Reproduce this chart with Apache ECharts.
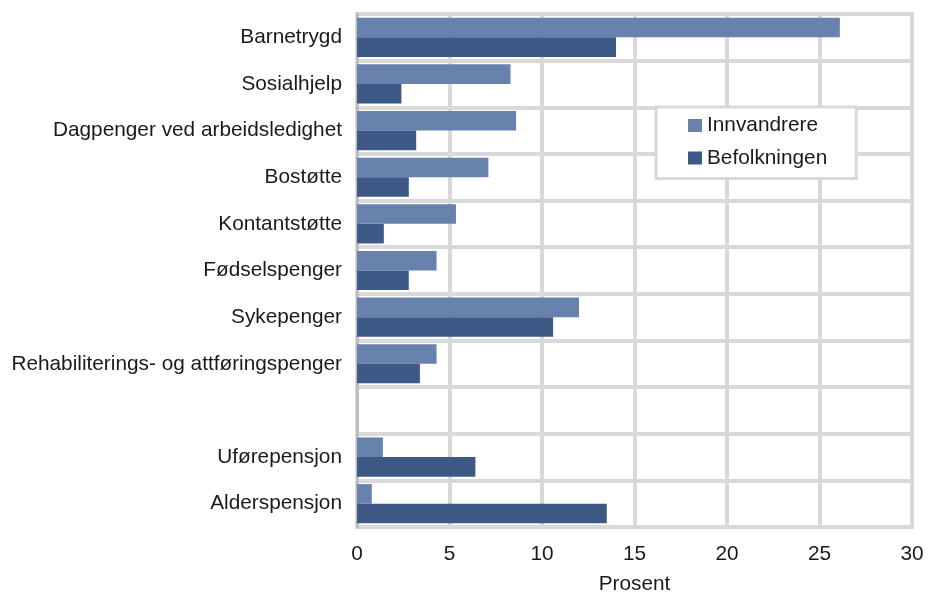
<!DOCTYPE html>
<html>
<head>
<meta charset="utf-8">
<script src="https://cdn.jsdelivr.net/npm/echarts@6/dist/echarts.min.js"></script>
<style>
html,body{margin:0;padding:0;background:#fff;}
#chart{width:931px;height:594px;}
</style>
</head>
<body>
<div id="chart"></div>
<script>
const categories = ['Barnetrygd','Sosialhjelp','Dagpenger ved arbeidsledighet','Bostøtte','Kontantstøtte','Fødselspenger','Sykepenger','Rehabiliterings- og attføringspenger','','Uførepensjon','Alderspensjon'];
const innvandrere = [26.1, 8.3, 8.6, 7.1, 5.35, 4.3, 12.0, 4.3, null, 1.4, 0.8];
const befolkningen = [14.0, 2.4, 3.2, 2.8, 1.45, 2.8, 10.6, 3.4, null, 6.4, 13.5];
const xTicks = [0, 5, 10, 15, 20, 25, 30];

const chart = echarts.init(document.getElementById('chart'), null, {renderer:'canvas'});
const font = '"Liberation Sans", Arial, sans-serif';
const txt = '#1a1a1a';
const fs = 20.8;
chart.setOption({
  animation: false,
  textStyle: {fontFamily: font},
  grid: {left: 357, right: 19, top: 14, bottom: 67, containLabel: false, outerBoundsMode: 'none',
         show: true, borderColor: '#d9d9d9', borderWidth: 4, backgroundColor: '#fff'},
  legend: {
    orient: 'vertical', left: 656, top: 107,
    data: ['Innvandrere','Befolkningen'],
    backgroundColor: '#fff', borderColor: '#d9d9d9', borderWidth: 3,
    padding: [8, 29, 10, 32],
    itemWidth: 14, itemHeight: 13, itemGap: 11.5,
    icon: 'rect',
    textStyle: {fontFamily: font, fontSize: fs, color: txt}
  },
  xAxis: {
    type: 'value', min: xTicks[0], max: xTicks[xTicks.length-1], interval: 5,
    name: 'Prosent', nameLocation: 'middle', nameGap: 47,
    nameTextStyle: {fontFamily: font, fontSize: fs, color: txt},
    axisLine: {show: false}, axisTick: {show: false},
    axisLabel: {fontFamily: font, fontSize: fs, color: txt, margin: 17},
    splitLine: {show: true, lineStyle: {color: '#d9d9d9', width: 4}}
  },
  yAxis: {
    type: 'category', data: categories, inverse: true,
    axisLine: {show: true, lineStyle: {color: '#bfbfbf', width: 3}},
    axisTick: {show: false},
    axisLabel: {fontFamily: font, fontSize: fs, color: txt, margin: 15},
    splitLine: {show: true, interval: 0, lineStyle: {color: '#d9d9d9', width: 4}}
  },
  series: [
    {name: 'Innvandrere', type: 'bar', data: innvandrere, barGap: '0%', barCategoryGap: '16%',
     itemStyle: {color: '#6882ae'}},
    {name: 'Befolkningen', type: 'bar', data: befolkningen, barGap: '0%', barCategoryGap: '16%',
     itemStyle: {color: '#3e5985'}}
  ]
});
</script>
</body>
</html>
